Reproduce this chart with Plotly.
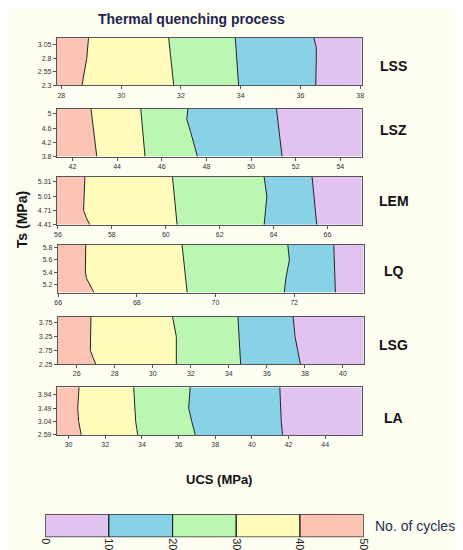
import plotly.graph_objects as go

W, H = 463, 550

# ---- data ----
rocks = ["LSS", "LSZ", "LEM", "LQ", "LSG", "LA"]
x_ranges = [[27.85, 38.05], [41.3, 54.96], [55.96, 67.27], [65.99, 73.77], [25.01, 41.09], [29.36, 45.99]]
y_ranges = [[2.3, 3.18], [3.8, 5.14], [4.41, 5.41], [5.07, 5.84], [2.25, 3.97], [2.59, 4.2]]
y_ticks = [[2.3, 2.55, 2.8, 3.05], [3.8, 4.2, 4.6, 5], [4.41, 4.71, 5.01, 5.31],
           [5.2, 5.4, 5.6, 5.8], [2.25, 2.75, 3.25, 3.75], [2.59, 3.04, 3.49, 3.94]]
x_ticks = [[28, 30, 32, 34, 36, 38], [42, 44, 46, 48, 50, 52, 54], [56, 58, 60, 62, 64, 66],
           [66, 68, 70, 72], [26, 28, 30, 32, 34, 36, 38, 40], [30, 32, 34, 36, 38, 40, 42, 44]]
# Ts levels (top -> bottom) at which boundary UCS values are read
ts_levels = [
    [3.18, 3.0, 2.8, 2.55, 2.3],
    [5.14, 4.85, 4.5, 4.2, 3.8],
    [5.41, 5.01, 4.71, 4.56, 4.41],
    [5.84, 5.6, 5.4, 5.3, 5.07],
    [3.97, 3.25, 2.75, 2.5, 2.25],
    [4.2, 3.49, 3.04, 2.8, 2.59],
]
# boundaries between cycle classes: 40|30, 30|20, 20|10, 10|0  (UCS at each Ts level)
boundaries = [
    [[28.91, 28.88, 28.85, 28.77, 28.69], [31.59, 31.62, 31.66, 31.71, 31.76],
     [33.82, 33.84, 33.85, 33.90, 33.93], [36.45, 36.53, 36.53, 36.52, 36.51]],
    [[42.83, 42.89, 42.95, 43.01, 43.09], [45.06, 45.10, 45.15, 45.19, 45.25],
     [47.17, 47.12, 47.29, 47.42, 47.60], [51.14, 51.19, 51.26, 51.32, 51.39]],
    [[57.00, 56.97, 56.95, 57.05, 57.18], [60.25, 60.32, 60.37, 60.40, 60.42],
     [63.65, 63.75, 63.70, 63.67, 63.65], [65.43, 65.50, 65.55, 65.58, 65.60]],
    [[66.70, 66.70, 66.69, 66.72, 66.91], [69.15, 69.19, 69.22, 69.24, 69.28],
     [71.84, 71.88, 71.82, 71.79, 71.75], [73.01, 73.02, 73.03, 73.04, 73.05]],
    [[26.75, 26.73, 26.72, 26.85, 27.01], [31.04, 31.24, 31.24, 31.24, 31.24],
     [34.48, 34.54, 34.58, 34.60, 34.62], [37.38, 37.48, 37.62, 37.69, 37.76]],
    [[30.57, 30.50, 30.55, 30.62, 30.69], [33.55, 33.60, 33.66, 33.72, 33.77],
     [36.63, 36.55, 36.72, 36.82, 36.91], [41.52, 41.56, 41.60, 41.64, 41.67]],
]
cycle_bins = [0, 10, 20, 30, 40, 50]
# colours from left (most cycles) to right (fewest)
region_colors = ["#fdc4b5", "#fefbbb", "#bbf7b2", "#88d2e7", "#e2c2ee"]
bar_colors = ["#e2c2ee", "#88d2e7", "#bbf7b2", "#fefbbb", "#fdc4b5"]

# ---- layout geometry (pixels) ----
panel_px = [  # x0, x1, y0(top), y1(bottom)
    (44, 357, 29, 77),
    (44, 357, 100.7, 148.7),
    (44, 357, 169.3, 217.3),
    (45, 359, 237.7, 285.7),
    (45, 359, 310, 357.7),
    (44, 357, 381, 429),
]
bar_px = (32, 359, 509, 532)
label_y = [57, 122, 193, 264, 338, 412]

def xd(a, b):
    return [a / W, b / W]

def yd(top, bot):
    return [1 - bot / H, 1 - top / H]

fig = go.Figure()
FONT = "Liberation Sans, Arial"
tickfont = dict(family=FONT, size=7, color="#333")
axcol = "#555"

for i in range(6):
    n = "" if i == 0 else str(i + 1)
    xa, ya = "x" + n, "y" + n
    x0, x1 = x_ranges[i]
    lv = ts_levels[i]
    bnds = [[x0] * len(lv)] + boundaries[i] + [[x1] * len(lv)]
    for k in range(5):
        left, right = bnds[k], bnds[k + 1]
        px = left + right[::-1] + [left[0]]
        py = lv + lv[::-1] + [lv[0]]
        fig.add_trace(go.Scatter(x=px, y=py, xaxis=xa, yaxis=ya, mode="lines",
                                 fill="toself", fillcolor=region_colors[k],
                                 line=dict(width=0), hoverinfo="skip", showlegend=False))
    for b in boundaries[i]:
        fig.add_trace(go.Scatter(x=b, y=lv, xaxis=xa, yaxis=ya, mode="lines",
                                 line=dict(color="#222", width=1), hoverinfo="skip",
                                 showlegend=False))
    p = panel_px[i]
    fig.layout["xaxis" + n] = dict(domain=xd(p[0], p[1]), range=x_ranges[i], anchor=ya,
                                   tickvals=x_ticks[i], ticks="outside", ticklen=3,
                                   tickcolor=axcol, tickfont=tickfont, showgrid=False,
                                   zeroline=False, showline=True, linecolor=axcol,
                                   linewidth=1, mirror=True, fixedrange=True)
    fig.layout["yaxis" + n] = dict(domain=yd(p[2], p[3]), range=y_ranges[i], anchor=xa,
                                   tickvals=y_ticks[i], ticktext=[str(v) for v in y_ticks[i]],
                                   ticks="outside", ticklen=3, tickcolor=axcol,
                                   tickfont=tickfont, showgrid=False, zeroline=False,
                                   showline=True, linecolor=axcol, linewidth=1, mirror=True,
                                   fixedrange=True)
    fig.add_annotation(text="<b>" + rocks[i] + "</b>", x=390 / W, y=1 - label_y[i] / H,
                       xref="paper", yref="paper", showarrow=False, xanchor="center",
                       yanchor="middle", font=dict(family=FONT, size=14, color="#111"))

# colour bar panel
for k in range(5):
    a, b = cycle_bins[k], cycle_bins[k + 1]
    fig.add_trace(go.Scatter(x=[a, b, b, a, a], y=[0, 0, 1, 1, 0], xaxis="x7", yaxis="y7",
                             mode="lines", fill="toself", fillcolor=bar_colors[k],
                             line=dict(color="#222", width=1.2), hoverinfo="skip",
                             showlegend=False))
fig.layout["xaxis7"] = dict(domain=xd(bar_px[0], bar_px[1]), range=[0, 50], anchor="y7",
                            tickvals=cycle_bins, tickangle=90, ticks="",
                            tickfont=dict(family=FONT, size=11, color="#222"),
                            showgrid=False, zeroline=False, showline=False, fixedrange=True)
fig.layout["yaxis7"] = dict(domain=yd(bar_px[2], bar_px[3]), range=[0, 1], anchor="x7",
                            showticklabels=False, ticks="", showgrid=False, zeroline=False,
                            showline=False, fixedrange=True)

fig.add_annotation(text="No. of cycles", x=412 / W, y=1 - 521 / H, xref="paper", yref="paper",
                   showarrow=False, xanchor="center", yanchor="middle",
                   font=dict(family=FONT, size=14, color="#1f2f4f"))
fig.add_annotation(text="<b>Thermal quenching process</b>", x=182 / W, y=1 - 10 / H,
                   xref="paper", yref="paper", showarrow=False, xanchor="center",
                   yanchor="middle", font=dict(family=FONT, size=14, color="#23234f"))
fig.add_annotation(text="<b>Ts (MPa)</b>", x=9 / W, y=1 - 212 / H, xref="paper", yref="paper",
                   showarrow=False, textangle=-90, xanchor="center", yanchor="middle",
                   font=dict(family=FONT, size=14, color="#111"))
fig.add_annotation(text="<b>UCS (MPa)</b>", x=210 / W, y=1 - 474 / H, xref="paper",
                   yref="paper", showarrow=False, xanchor="center", yanchor="middle",
                   font=dict(family=FONT, size=13, color="#111"))

fig.update_layout(width=W, height=H, margin=dict(l=0, r=0, t=0, b=0),
                  paper_bgcolor="#fefdf2", plot_bgcolor="#ffffff", showlegend=False)
fig.write_html("out.html")
